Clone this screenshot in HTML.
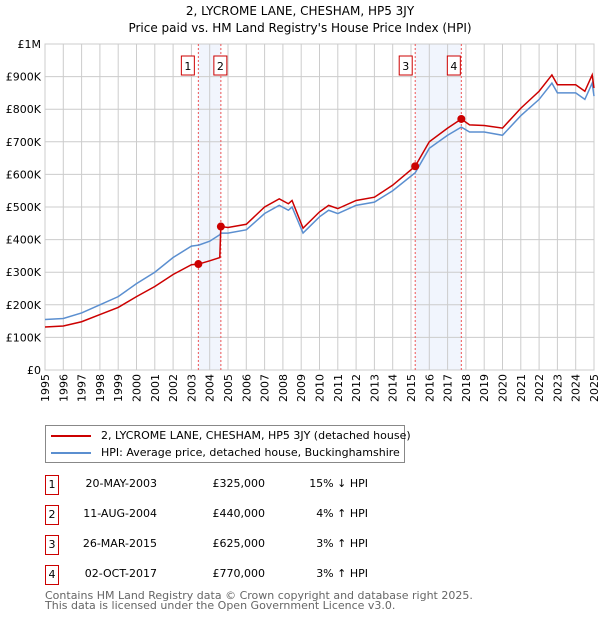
<!DOCTYPE html>
<html><head><meta charset="utf-8"><style>
body{margin:0;background:#fff;font-family:"DejaVu Sans","Liberation Sans",sans-serif;}
#wrap{position:relative;width:600px;height:620px;overflow:hidden}
.t{position:absolute;font-size:11px;color:#000;white-space:nowrap}
.box{position:absolute;border:1px solid #c00;width:12px;height:18px;text-align:center;font-size:11px;line-height:18px}
svg text{font-family:"DejaVu Sans",sans-serif}
</style></head><body><div id="wrap">
<div class="t" style="left:0;width:600px;text-align:center;top:4px;font-size:12px">2, LYCROME LANE, CHESHAM, HP5 3JY</div>
<div class="t" style="left:0;width:600px;text-align:center;top:21px;font-size:12px">Price paid vs. HM Land Registry's House Price Index (HPI)</div>
<svg id="chart" width="600" height="420" style="position:absolute;left:0;top:0"></svg>
<div style="position:absolute;left:45px;top:425px;width:358px;height:36px;border:1px solid #888">
<div style="position:absolute;left:5px;top:3px;font-size:11px;white-space:nowrap"><span style="display:inline-block;width:40px;height:2px;background:#c00;vertical-align:middle;margin-right:10px"></span>2, LYCROME LANE, CHESHAM, HP5 3JY (detached house)</div>
<div style="position:absolute;left:5px;top:20px;font-size:11px;white-space:nowrap"><span style="display:inline-block;width:40px;height:2px;background:#5b8fd0;vertical-align:middle;margin-right:10px"></span>HPI: Average price, detached house, Buckinghamshire</div>
</div>
<div id="table"></div>
<div class="t" style="left:45px;top:591px;color:#666;font-size:11px;line-height:10px">Contains HM Land Registry data © Crown copyright and database right 2025.<br>This data is licensed under the Open Government Licence v3.0.</div>
</div>
<script>
const dates=[1995,1996,1997,1998,1999,2000,2001,2002,2003,2003.4,2004,2004.55,2004.61,2005,2006,2007,2007.8,2008.3,2008.5,2009.1,2010,2010.5,2011,2012,2013,2014,2015.23,2016,2017,2017.75,2018.2,2019,2020,2021,2022,2022.7,2023,2024,2024.5,2024.9,2025];
const hpi=[155,158,175,200,225,265,300,345,380,383,395,415,420,420,430,480,505,490,500,420,470,490,480,505,515,550,605,680,720,745,730,730,720,780,830,880,850,850,830,880,840];
const price=[132,135,148,170,192,225,256,293,323,325,335,345,440,437,447,500,525,510,520,435,485,505,495,520,530,567,625,700,742,770,752,750,742,803,855,905,875,875,855,905,865];
const saleDates=[2003.38,2004.61,2015.23,2017.75];
const salePrices=[325,440,625,770];
const saleLabels=["20-MAY-2003","11-AUG-2004","26-MAR-2015","02-OCT-2017"];
const salePriceText=["£325,000","£440,000","£625,000","£770,000"];
const saleHpiText=["15% ↓ HPI","4% ↑ HPI","3% ↑ HPI","3% ↑ HPI"];
const yTicks=[0,100,200,300,400,500,600,700,800,900,1000];
const yTickLabels=["£0","£100K","£200K","£300K","£400K","£500K","£600K","£700K","£800K","£900K","£1M"];
const xTicks=[1995,1996,1997,1998,1999,2000,2001,2002,2003,2004,2005,2006,2007,2008,2009,2010,2011,2012,2013,2014,2015,2016,2017,2018,2019,2020,2021,2022,2023,2024,2025];
const X0=45,X1=594,Y0=370,Y1=44;
const x=v=>X0+(v-1995)/30*(X1-X0);
const y=v=>Y0-v/1000*(Y0-Y1);
const svg=document.getElementById('chart');const NS='http://www.w3.org/2000/svg';
function mk(t,a,p){const e=document.createElementNS(NS,t);for(const k in a)e.setAttribute(k,a[k]);(p||svg).appendChild(e);return e;}
let e=mk('rect',{x:X0,y:Y1,width:X1-X0,height:Y0-Y1,fill:'#fff',stroke:'#ccc'});


[[0,1],[2,3]].forEach(([a,b])=>{const r=mk('rect',{x:x(saleDates[a]),y:Y1,width:x(saleDates[b])-x(saleDates[a]),height:Y0-Y1,fill:'#eef3fc',opacity:0.8});

});
yTicks.forEach((v,i)=>{const l=mk('line',{x1:X0,x2:X1,y1:y(v),y2:y(v),stroke:'#ccc'});


const t=mk('text',{x:X0-4,y:y(v)+4,'text-anchor':'end','font-size':11});t.textContent=yTickLabels[i];

});
xTicks.forEach(v=>{const l=mk('line',{x1:x(v),x2:x(v),y1:Y1,y2:Y0,stroke:'#ccc'});


const t=mk('text',{x:0,y:0,'text-anchor':'end','font-size':11,transform:`translate(${x(v)+4},${Y0+4}) rotate(-90)`});t.textContent=v;

});
saleDates.forEach((d,i)=>{const l=mk('line',{x1:x(d),x2:x(d),y1:Y1,y2:Y0,stroke:'#e55','stroke-dasharray':'2,2'});


const bx=i==1?x(d)-7:(i==0?x(d)-17:(i==2?x(d)-16:x(d)-14));
const r=mk('rect',{x:bx,y:56,width:13,height:19,fill:'#fff',stroke:'#c00'});


const t=mk('text',{x:bx+6.5,y:70,'text-anchor':'middle','font-size':11});t.textContent=i+1;

});
const pl=(arr,c,n)=>{const p=mk('polyline',{points:dates.map((d,i)=>x(d)+','+y(arr[i])).join(' '),fill:'none',stroke:c,'stroke-width':1.5});

};
pl(hpi,'#5b8fd0','hpi-line');pl(price,'#c00','price-line');
saleDates.forEach((d,i)=>{const c=mk('circle',{cx:x(d),cy:y(salePrices[i]),r:4,fill:'#c00'});

});
const tb=document.getElementById('table');
saleLabels.forEach((s,i)=>{const top=475+i*30;
const b=document.createElement('div');b.className='box';b.style.left='45px';b.style.top=top+'px';b.textContent=i+1;

tb.appendChild(b);
[[s,157,'table-date'],[salePriceText[i],265,'table-price'],[saleHpiText[i],368,'table-hpi-diff']].forEach(([txt,r,n])=>{const d=document.createElement('div');d.className='t';d.style.right=(600-r)+'px';d.style.top=(top+2)+'px';d.textContent=txt;

tb.appendChild(d);});});
</script></body></html>
